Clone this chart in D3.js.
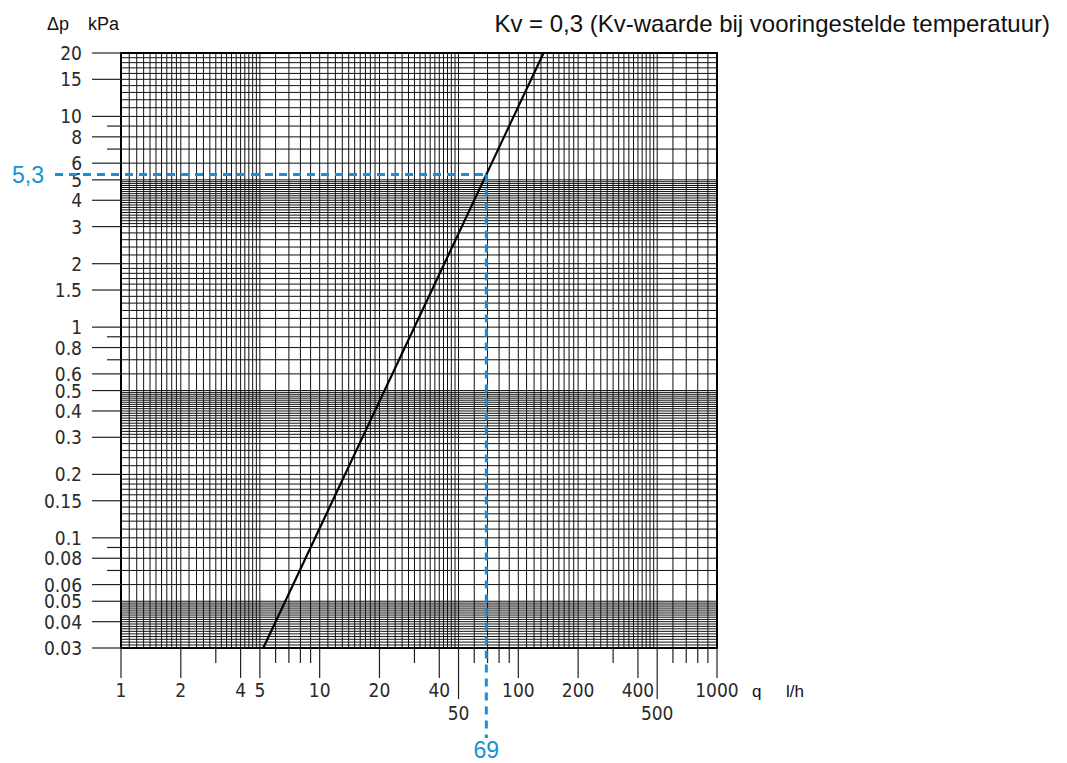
<!DOCTYPE html>
<html>
    <head>
        <script src="https://cdn.jsdelivr.net/npm/d3@7"></script>
        <style>
            body{ margin:0; background:#fff; }
            .chart .grid line{ stroke:#111; stroke-width:1; }
            .chart .num{ font: 19px "Liberation Sans Narrow", "DejaVu Sans Condensed", sans-serif; fill:#2a2a2a; }
            .chart .unit{ font: 17px "Liberation Sans", Arial, sans-serif; fill:#111; }
            .chart .blue{ font: 23px "Liberation Sans", Arial, sans-serif; fill:#1592d6; }
        </style>
    </head>
    <body>
        <svg class="chart" width="1067" height="763"></svg>
        <script>
            // flow (l/h) tick labels and pressure drop (kPa) tick labels
            var qLabels = [1,2,4,5,10,20,40,50,100,200,400,500,1000];
            var qLowLabels = [50,500];
            var qShortTicks = [3,6,7,8,9,30,60,70,80,90,300,600,700,800,900];
            var dpLabels = ["20","15","10","8","6","5","4","3","2","1.5","1","0.8","0.6","0.5","0.4","0.3","0.2","0.15","0.1","0.08","0.06","0.05","0.04","0.03"];
            var dpShortTicks = [9,7,0.9,0.7,0.09,0.07];

            // log paper rulings inside one decade
            var qGridMant = [1,1.1,1.2,1.3,1.4,1.5,1.6,1.7,1.8,1.9,2,2.2,2.4,2.6,2.8,3,3.2,3.4,3.6,3.8,4,4.2,4.4,4.6,4.8,5,6,7,8,9];
            var dpGridMant = [1,1.1,1.2,1.3,1.4,1.5,1.6,1.7,1.8,1.9,2,2.2,2.4,2.6,2.8,3,3.1,3.2,3.3,3.4,3.5,3.6,3.7,3.8,3.9,4,4.1,4.2,4.3,4.4,4.5,4.6,4.7,4.8,4.9,5,6,7,8,9];

            // Kv = 0,3 curve and the marked point
            var curveQ = [5.2, 134];
            var curveDp = [0.03, 20];
            var markQ = 69, markDp = 5.3;

            var svg = d3.select("svg");

            var x = d3.scaleLog().domain([1,1000]).range([121,717]);
            var y = d3.scaleLog().domain([0.03,20]).range([648,53]);

            var qGrid = [], dpGrid = [];
            [1,10,100].forEach(function(dec){
                qGridMant.forEach(function(m){ qGrid.push(+(m*dec).toPrecision(4)); });
            });
            qGrid.push(1000);
            [0.01,0.1,1,10].forEach(function(dec){
                dpGridMant.forEach(function(m){
                    var v = +(m*dec).toPrecision(4);
                    if(v >= 0.03 && v <= 20) dpGrid.push(v);
                });
            });
            dpGrid.push(20);

            var grid = svg.append("g").attr("class","grid");
            grid.selectAll(".v").data(qGrid).enter().append("line")
                .attr("x1",function(d){return x(d);}).attr("x2",function(d){return x(d);})
                .attr("y1",y(20)).attr("y2",y(0.03));
            grid.selectAll(".h").data(dpGrid).enter().append("line")
                .attr("y1",function(d){return y(d);}).attr("y2",function(d){return y(d);})
                .attr("x1",x(1)).attr("x2",x(1000));

            svg.append("rect")
                .attr("x",x(1)).attr("y",y(20))
                .attr("width",x(1000)-x(1)).attr("height",y(0.03)-y(20))
                .attr("fill","none").attr("stroke","#000").attr("stroke-width",2);

            // y axis ticks and labels
            var ya = svg.append("g");
            ya.selectAll(".t").data(dpLabels).enter().append("line")
                .attr("x1",92).attr("x2",121)
                .attr("y1",function(d){return y(+d);}).attr("y2",function(d){return y(+d);})
                .attr("stroke","#222").attr("stroke-width",1.2);
            ya.selectAll(".s").data(dpShortTicks).enter().append("line")
                .attr("x1",107).attr("x2",121)
                .attr("y1",function(d){return y(d);}).attr("y2",function(d){return y(d);})
                .attr("stroke","#222").attr("stroke-width",1.2);
            ya.selectAll("text").data(dpLabels).enter().append("text")
                .attr("class","num")
                .attr("x",82).attr("y",function(d){return y(+d)+7;})
                .attr("text-anchor","end")
                .text(function(d){return d;});

            // x axis ticks and labels
            var xa = svg.append("g");
            xa.selectAll(".t").data(qLabels).enter().append("line")
                .attr("x1",function(d){return x(d);}).attr("x2",function(d){return x(d);})
                .attr("y1",648).attr("y2",function(d){return qLowLabels.indexOf(d) >= 0 ? 699 : 678;})
                .attr("stroke","#222").attr("stroke-width",1.2);
            xa.selectAll(".s").data(qShortTicks).enter().append("line")
                .attr("x1",function(d){return x(d);}).attr("x2",function(d){return x(d);})
                .attr("y1",648).attr("y2",663)
                .attr("stroke","#222").attr("stroke-width",1.2);
            xa.selectAll("text").data(qLabels).enter().append("text")
                .attr("class","num")
                .attr("x",function(d){return x(d);})
                .attr("y",function(d){return qLowLabels.indexOf(d) >= 0 ? 720 : 697;})
                .attr("text-anchor","middle")
                .text(function(d){return d;});

            svg.append("text").attr("class","unit").attr("x",752).attr("y",697).text("q");
            svg.append("text").attr("class","unit").attr("x",786).attr("y",697).text("l/h");
            svg.append("text").attr("class","unit").style("font-size","18px").attr("x",47).attr("y",30).text("Δp");
            svg.append("text").attr("class","unit").style("font-size","18px").attr("x",88).attr("y",30).text("kPa");
            svg.append("text").attr("class","unit").style("font-size","24px")
                .attr("x",1050).attr("y",32).attr("text-anchor","end")
                .text("Kv = 0,3 (Kv-waarde bij vooringestelde temperatuur)");

            // characteristic line
            var line = d3.line().x(function(d){return x(d[0]);}).y(function(d){return y(d[1]);});
            svg.append("path").datum(d3.zip(curveQ, curveDp))
                .attr("d",line).attr("fill","none").attr("stroke","#000").attr("stroke-width",2.2);

            // reading of the marked point
            svg.append("line")
                .attr("x1",55).attr("x2",x(markQ)).attr("y1",y(markDp)).attr("y2",y(markDp))
                .attr("stroke","#1592d6").attr("stroke-width",3).attr("stroke-dasharray","8,6");
            svg.append("line")
                .attr("x1",x(markQ)).attr("x2",x(markQ)).attr("y1",y(markDp)).attr("y2",738)
                .attr("stroke","#1592d6").attr("stroke-width",3).attr("stroke-dasharray","8,6");
            svg.append("text").attr("class","blue").attr("x",44).attr("y",y(markDp)+8)
                .attr("text-anchor","end").text(String(markDp).replace(".",","));
            svg.append("text").attr("class","blue").attr("x",x(markQ)).attr("y",758)
                .attr("text-anchor","middle").text(markQ);
        </script>
    </body>
</html>
